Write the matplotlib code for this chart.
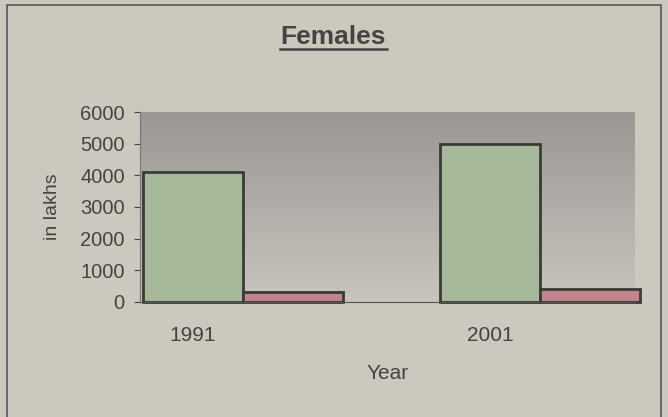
import numpy as np
import matplotlib.pyplot as plt
from matplotlib.patches import Rectangle
from matplotlib.colors import LinearSegmentedColormap

plt.rcParams['font.family'] = ['Liberation Sans', 'DejaVu Sans']

# Data (in lakhs)
years = ["1991", "2001"]
series_a = [4100, 5000]   # green bars
series_b = [320, 400]     # pink bars

fig = plt.figure(figsize=(6.68, 4.17), dpi=100)
fig.patch.set_facecolor("#cdc8bd")

# outer frame (bottom edge runs off the picture)
fig.patches.append(Rectangle((0.011, -0.05), 0.978, 1.037, transform=fig.transFigure,
                             fill=False, edgecolor="#555555", linewidth=1.2))

ax = fig.add_axes([0.2096, 0.2758, 0.7410, 0.4556])

x = np.arange(len(years))
w = 0.337

# gradient plot area background (darker at top)
grad = np.linspace(0, 1, 256).reshape(-1, 1)
ax.imshow(grad, extent=[-0.178, 1.488, 0, 6000], aspect="auto",
          cmap=LinearSegmentedColormap.from_list("bg", ["#c8c4bd", "#9a9794"]),
          origin="lower", zorder=0)

ax.bar(x, series_a, width=w, color="#a5b89a", edgecolor="#3a3a36",
       linewidth=2, zorder=2, clip_on=False)
ax.bar(x + w, series_b, width=w, color="#c4848d", edgecolor="#3a3a36",
       linewidth=2, zorder=2, clip_on=False)

ax.set_xlim(-0.178, 1.488)
ax.set_ylim(0, 6000)
ax.set_yticks(range(0, 6001, 1000))
ax.set_xticks(x)
ax.set_xticklabels(years)

for s in ["top", "right"]:
    ax.spines[s].set_visible(False)
ax.spines["left"].set_color("#777777")
ax.spines["bottom"].set_color("#555555")
ax.tick_params(axis="y", labelsize=14.5, colors="#444444", length=4, pad=7)
ax.tick_params(axis="x", labelsize=15, colors="#444444", length=0, pad=17)

ax.set_xlabel("Year", fontsize=15, color="#444444", labelpad=14)
ax.set_ylabel("in lakhs", fontsize=14, color="#444444", labelpad=14)

fig.text(0.499, 0.912, "Females", fontsize=19, fontweight="bold",
         color="#444444", ha="center", va="center")
fig.add_artist(plt.Line2D([0.419, 0.579], [0.883, 0.883], color="#444444",
                          linewidth=1.8, transform=fig.transFigure))

fig.savefig("out.png", dpi=100, facecolor=fig.get_facecolor())
